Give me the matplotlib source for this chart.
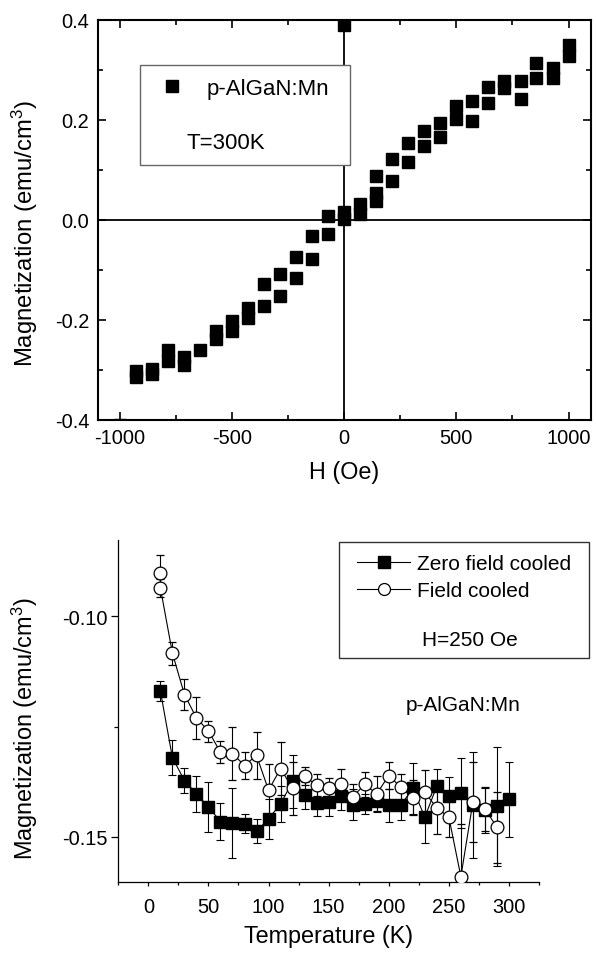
import matplotlib
matplotlib.use('Agg')
import matplotlib.pyplot as plt
from matplotlib.lines import Line2D
from matplotlib.patches import Rectangle
from matplotlib.ticker import MultipleLocator, FormatStrFormatter, FixedLocator

plt.rcParams['font.family'] = ['Liberation Sans', 'DejaVu Sans']
plt.rcParams['axes.unicode_minus'] = False
plt.rcParams['mathtext.fontset'] = 'custom'
plt.rcParams['mathtext.rm'] = 'Liberation Sans'
plt.rcParams['mathtext.it'] = 'Liberation Sans:italic'
plt.rcParams['mathtext.bf'] = 'Liberation Sans:bold'

# ---------------- data: top panel (M-H loop at 300 K) ----------------
top_H = [-1000,
         -929, -929, -857, -857, -786, -786, -714, -714, -643, -571, -571,
         -500, -500, -429, -429, -357, -357, -286, -286, -214, -214, -143, -143,
         -71, -71,
         0, 0, 0, 71, 71, 143, 143, 143, 214, 214, 286, 286, 357, 357, 429, 429,
         500, 500, 571, 571, 643, 643, 714, 714, 786, 786, 857, 857, 929, 929,
         1000, 1000]
top_M = [-0.41,
         -0.302, -0.315, -0.298, -0.308, -0.260, -0.283, -0.275, -0.290, -0.260,
         -0.222, -0.239, -0.203, -0.222, -0.177, -0.197, -0.129, -0.173, -0.109,
         -0.152, -0.075, -0.117, -0.033, -0.079, 0.008, -0.029,
         0.015, 0.001, 0.39, 0.031, 0.011, 0.088, 0.053, 0.038, 0.121, 0.078,
         0.153, 0.116, 0.177, 0.148, 0.193, 0.165, 0.228, 0.201, 0.237, 0.198,
         0.265, 0.233, 0.277, 0.263, 0.278, 0.241, 0.313, 0.283, 0.303, 0.283,
         0.350, 0.328]

# ---------------- data: bottom panel (ZFC / FC) ----------------
zfc_T = [10, 20, 30, 40, 50, 60, 70, 80, 90, 100, 110, 120, 130, 140, 150,
         160, 170, 180, 190, 200, 210, 220, 230, 240, 250, 260, 270, 280, 290, 300]
zfc_M = [-0.1169, -0.1320, -0.1372, -0.1402, -0.1432, -0.1465, -0.1468, -0.1470,
         -0.1487, -0.1459, -0.1425, -0.1374, -0.1406, -0.1423, -0.1420, -0.1408,
         -0.1427, -0.1425, -0.1419, -0.1428, -0.1428, -0.1390, -0.1455, -0.1385,
         -0.1408, -0.1400, -0.1427, -0.1440, -0.1430, -0.1414]
zfc_err = [0.0023, 0.0039, 0.0028, 0.0041, 0.0057, 0.0042, 0.0080, 0.0022,
           0.0027, 0.0045, 0.0040, 0.0060, 0.0030, 0.0030, 0.0032, 0.0030,
           0.0035, 0.0022, 0.0025, 0.0037, 0.0033, 0.0057, 0.0059, 0.0040,
           0.0043, 0.0080, 0.0120, 0.0050, 0.0135, 0.0085]

fc_T = [10, 10, 20, 30, 40, 50, 60, 70, 80, 90, 100, 110, 120, 130, 140, 150,
        160, 170, 180, 190, 200, 210, 220, 230, 240, 250, 260, 270, 280, 290]
fc_M = [-0.0902, -0.0935, -0.1083, -0.1177, -0.1230, -0.1260, -0.1308, -0.1311,
        -0.1338, -0.1315, -0.1394, -0.1345, -0.1390, -0.1362, -0.1383, -0.1390,
        -0.1381, -0.1409, -0.1381, -0.1402, -0.1361, -0.1387, -0.1411, -0.1399,
        -0.1434, -0.1455, -0.1590, -0.1421, -0.1436, -0.1478]
fc_err = [0.0041, 0.0020, 0.0026, 0.0035, 0.0047, 0.0024, 0.0025, 0.0060,
          0.0030, 0.0053, 0.0060, 0.0060, 0.0060, 0.0020, 0.0025, 0.0023,
          0.0034, 0.0030, 0.0028, 0.0040, 0.0030, 0.0030, 0.0040, 0.0050,
          0.0060, 0.0045, 0.0120, 0.0090, 0.0050, 0.0080]

W, Hh = 596, 954
fig = plt.figure(figsize=(W / 100, Hh / 100), dpi=100)

# ---------------- top panel ----------------
ax1 = fig.add_axes([97.5 / W, 1 - 420.7 / Hh, 493.5 / W, 400 / Hh])
ax1.axhline(0, color='black', lw=1.3, zorder=1)
ax1.axvline(0, color='black', lw=1.3, zorder=1)
ax1.plot(top_H, top_M, linestyle='none', marker='s', ms=8.6, color='black',
         zorder=3)
ax1.set_xlim(-1100, 1100)
ax1.set_ylim(-0.4, 0.4)
ax1.xaxis.set_major_locator(FixedLocator([-1000, -500, 0, 500, 1000]))
ax1.xaxis.set_minor_locator(FixedLocator([-750, -250, 250, 750]))
ax1.yaxis.set_major_locator(MultipleLocator(0.2))
ax1.yaxis.set_minor_locator(MultipleLocator(0.1))
ax1.yaxis.set_major_formatter(FormatStrFormatter('%.1f'))
for s in ax1.spines.values():
    s.set_linewidth(1.5)
ax1.tick_params(which='both', direction='in', top=True, right=True,
                labelsize=14.4, width=1.2)
ax1.tick_params(which='major', length=6)
ax1.tick_params(which='minor', length=3.6)
ax1.tick_params(axis='x', pad=6)
ax1.tick_params(axis='y', pad=6)
ax1.set_xlabel('H (Oe)', fontsize=16.8, labelpad=9)
ax1.set_ylabel('Magnetization (emu/cm$^3$)', fontsize=17.2)
ax1.yaxis.set_label_coords(-0.1165, 0.469)

box1 = Rectangle((0.0861, 0.637), 0.5117 - 0.0861, 0.887 - 0.637,
                 transform=ax1.transAxes, facecolor='white', edgecolor='#666666',
                 lw=1.0, zorder=5)
ax1.add_patch(box1)
h1 = Line2D([], [], linestyle='none', marker='s', ms=8.6, color='black')
leg1 = ax1.legend([h1], ['p-AlGaN:Mn'], loc='center left',
                  bbox_to_anchor=(161 / W, 1 - 89 / Hh),
                  bbox_transform=fig.transFigure, frameon=False, fontsize=16,
                  handlelength=1.0, handletextpad=1.05, borderpad=0,
                  borderaxespad=0)
leg1.set_zorder(6)
ax1.text(0.181, 0.692, 'T=300K', transform=ax1.transAxes, fontsize=16,
         ha='left', va='center', zorder=6)

# ---------------- bottom panel ----------------
ax2 = fig.add_axes([118.3 / W, 1 - 882.5 / Hh, 420.7 / W, 341.8 / Hh])
ax2.errorbar(zfc_T, zfc_M, yerr=zfc_err, fmt='-', marker='s', ms=8.2,
             color='black', mfc='black', mec='black', lw=0.8, elinewidth=0.8,
             capsize=2.6, capthick=0.8, zorder=3)
ax2.errorbar(fc_T, fc_M, yerr=fc_err, fmt='-', marker='o', ms=9.2,
             color='black', mfc='white', mec='black', mew=0.9, lw=0.8,
             elinewidth=0.8, capsize=2.6, capthick=0.8, zorder=4)
ax2.set_xlim(-25, 325)
ax2.set_ylim(-0.1601, -0.0826)
ax2.xaxis.set_major_locator(MultipleLocator(50))
ax2.xaxis.set_minor_locator(FixedLocator([-25, 25, 75, 125, 175, 225, 275, 325]))
ax2.yaxis.set_major_locator(FixedLocator([-0.15, -0.10]))
ax2.yaxis.set_minor_locator(FixedLocator([-0.125]))
ax2.yaxis.set_major_formatter(FormatStrFormatter('%.2f'))
ax2.spines['top'].set_visible(False)
ax2.spines['right'].set_visible(False)
for s in ('left', 'bottom'):
    ax2.spines[s].set_linewidth(0.9)
ax2.tick_params(which='both', direction='out', labelsize=14.4, width=0.9)
ax2.tick_params(axis='x', which='major', length=3.2, pad=8)
ax2.tick_params(axis='x', which='minor', length=2.5)
ax2.tick_params(axis='y', which='major', length=5, pad=3)
ax2.tick_params(axis='y', which='minor', length=3)
ax2.set_xlabel('Temperature (K)', fontsize=16.8, labelpad=6)
ax2.set_ylabel('Magnetization (emu/cm$^3$)', fontsize=16.9)
ax2.yaxis.set_label_coords(-0.186, 0.4506)

box2 = Rectangle((0.5246, 0.654), 1.119 - 0.5246, 0.993 - 0.654,
                 transform=ax2.transAxes, facecolor='white', edgecolor='#333333',
                 lw=1.0, zorder=5, clip_on=False)
ax2.add_patch(box2)
hz = Line2D([], [], color='black', lw=0.8, marker='s', ms=8.2)
hf = Line2D([], [], color='black', lw=0.8, marker='o', ms=8.6, mfc='white',
            mec='black', mew=0.9)
leg2 = ax2.legend([hz, hf], ['Zero field cooled', 'Field cooled'],
                  loc='upper left', bbox_to_anchor=(357 / W, 1 - 555 / Hh),
                  bbox_transform=fig.transFigure, frameon=False, fontsize=15,
                  handlelength=2.55, handletextpad=0.34, labelspacing=0.4,
                  borderpad=0, borderaxespad=0)
leg2.set_zorder(6)
ax2.text(0.836, 0.709, 'H=250 Oe', transform=ax2.transAxes, fontsize=15,
         ha='center', va='center', zorder=6)
ax2.text(0.819, 0.519, 'p-AlGaN:Mn', transform=ax2.transAxes, fontsize=15,
         ha='center', va='center', zorder=6)

fig.savefig('out.png', dpi=100)
